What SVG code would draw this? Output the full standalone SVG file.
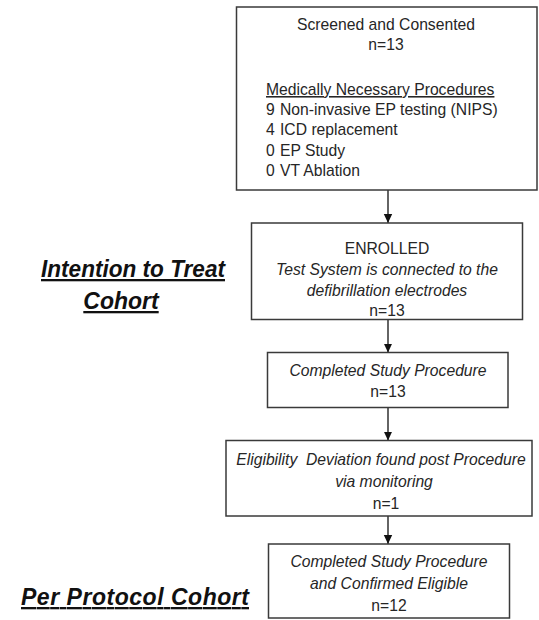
<svg xmlns="http://www.w3.org/2000/svg" width="539" height="620" viewBox="0 0 539 620">
<style>
  .box { fill: #ffffff; stroke: #3a3a3a; stroke-width: 1.5; }
  .t { font-family: "Liberation Sans", Arial, sans-serif; font-size: 15.7px; fill: #262626; }
  .c { text-anchor: middle; }
  .i { font-style: italic; }
  .u { text-decoration: underline; }
  .lbl { font-family: "Liberation Sans", Arial, sans-serif; font-size: 23px; font-weight: bold; font-style: italic; text-decoration: underline; fill: #111; }
  .conn { stroke: #111; stroke-width: 1.3; fill: none; marker-end: url(#arr); }
</style>
<defs>
  <marker id="arr" markerWidth="10" markerHeight="10" refX="9" refY="5" orient="auto" markerUnits="userSpaceOnUse">
    <path d="M0,0.8 L9,5 L0,9.2 Z" fill="#111"/>
  </marker>
</defs>
<rect width="539" height="620" fill="#ffffff"/>

<g id="label-itt">
  <text class="lbl" x="133" y="277" text-anchor="middle" textLength="184" lengthAdjust="spacingAndGlyphs">Intention to Treat</text>
  <text class="lbl" x="121" y="309" text-anchor="middle">Cohort</text>
</g>
<g id="label-pp">
  <text class="lbl" x="135" y="605" text-anchor="middle" textLength="228" lengthAdjust="spacing">Per Protocol Cohort</text>
</g>

<g id="connectors">
  <line class="conn" x1="388" y1="190" x2="388" y2="223"/>
  <line class="conn" x1="388" y1="319.5" x2="388" y2="352.5"/>
  <line class="conn" x1="388" y1="407.5" x2="388" y2="440.5"/>
  <line class="conn" x1="388" y1="516" x2="388" y2="544"/>
</g>

<g id="screened">
  <rect class="box" x="236.5" y="7" width="300.5" height="183"/>
  <text class="t c" x="386" y="30">Screened and Consented</text>
  <text class="t c" x="386" y="50">n=13</text>
  <text class="t u" x="266" y="95">Medically Necessary Procedures</text>
  <text class="t" x="266" y="115">9</text><text class="t" x="280" y="115">Non-invasive EP testing (NIPS)</text>
  <text class="t" x="266" y="135">4</text><text class="t" x="280" y="135">ICD replacement</text>
  <text class="t" x="266" y="156">0</text><text class="t" x="280" y="156">EP Study</text>
  <text class="t" x="266" y="176">0</text><text class="t" x="280" y="176">VT Ablation</text>
</g>

<g id="enrolled">
  <rect class="box" x="251.5" y="223" width="271" height="96.5"/>
  <text class="t c" x="387" y="254">ENROLLED</text>
  <text class="t c i" x="387" y="275">Test System is connected to the</text>
  <text class="t c i" x="387" y="296">defibrillation electrodes</text>
  <text class="t c" x="387" y="316">n=13</text>
</g>

<g id="completed">
  <rect class="box" x="267.5" y="352.5" width="240.5" height="55"/>
  <text class="t c i" x="388" y="376">Completed Study Procedure</text>
  <text class="t c" x="388" y="397">n=13</text>
</g>

<g id="deviation">
  <rect class="box" x="226" y="440.5" width="306" height="75.5"/>
  <text class="t c i" x="381" y="465" xml:space="preserve">Eligibility  Deviation found post Procedure</text>
  <text class="t c i" x="384" y="487">via monitoring</text>
  <text class="t c" x="386" y="509">n=1</text>
</g>

<g id="per-protocol">
  <rect class="box" x="268.5" y="544" width="241" height="74"/>
  <text class="t c i" x="389" y="567">Completed Study Procedure</text>
  <text class="t c i" x="389" y="589">and Confirmed Eligible</text>
  <text class="t c" x="389" y="611">n=12</text>
</g>
</svg>
